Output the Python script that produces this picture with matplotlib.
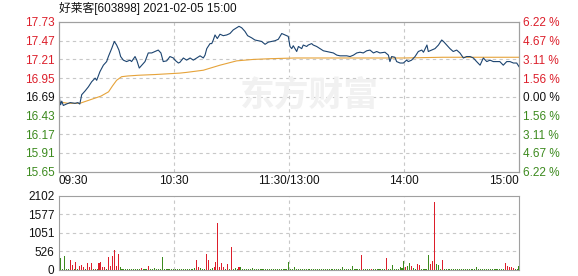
import numpy as np
import matplotlib
matplotlib.use("Agg")
import matplotlib.pyplot as plt

plt.rcParams['font.family'] = ['Liberation Sans', 'Noto Sans CJK SC', 'DejaVu Sans']

# ---- data ----
title = "好莱客[603898] 2021-02-05 15:00"
prev_close = 16.69
price_ticks = [17.73, 17.47, 17.21, 16.95, 16.69, 16.43, 16.17, 15.91, 15.65]
pct_labels = ["6.22 %", "4.67 %", "3.11 %", "1.56 %", "0.00 %", "1.56 %", "3.11 %", "4.67 %", "6.22 %"]
vol_ticks = [0, 526, 1051, 1577, 2102]
time_ticks = [0, 60, 120, 180, 240]
time_labels = ["09:30", "10:30", "11:30/13:00", "14:00", "15:00"]

# minute index (0..240) and price
price_min = [0, 0.5, 1, 1.6, 2.4, 4, 6, 8.5, 10, 11, 12, 13.7, 15.5, 17.2, 19, 19.8, 21.5, 23.3,
             25, 25.9, 27.6, 29, 30.2, 31.4, 32.3, 33.7, 35.4, 37.2, 38, 39.8, 40.7, 42, 43.3, 45,
             46.7, 48.5, 50.2, 51.9, 53.3, 54.5, 56.3, 58, 59.8, 60.6, 62.4, 63.2, 65, 66.7, 68.5,
             70.2, 72, 73.7, 75.4, 76.3, 77.2, 78.9, 79.8, 80.6, 81.5, 82.7, 84.1, 85.8, 87.6, 89.3,
             91, 92.8, 94, 95.4, 97.1, 98.5, 100.6, 102.3, 104.1, 105.8, 107.6, 109.3, 111, 112.8,
             114.5, 116.3, 118, 119.7, 120.6, 121.5, 122.3, 123.2, 124.1, 125, 126.7, 127.5, 129.3,
             130.1, 131.9, 132.7, 134.5, 136.2, 138, 139.7, 141.5, 143.2, 145, 146.7, 148.4, 150.2,
             151.9, 153.7, 155.4, 157.1, 158.8, 160.6, 162.3, 164.1, 165.8, 167.5, 170.1, 171.9,
             172.7, 173.6, 175.3, 176.2, 178, 179.7, 181.4, 182.3, 184, 185.8, 187.5, 189.3, 190.2,
             192, 192.7, 194.5, 196.2, 198, 199.7, 200.6, 202.3, 204, 205.7, 207.5, 209.2, 211,
             212.7, 214.5, 216.2, 217.9, 219.7, 221.4, 223.2, 224.9, 226.6, 228.4, 230, 231.8,
             233.6, 235.3, 237.1, 238.8, 240]
price_val = [16.845, 16.65, 16.58, 16.63, 16.57, 16.59, 16.61, 16.60, 16.61, 16.59, 16.72, 16.77,
             16.83, 16.90, 16.95, 16.92, 17.04, 17.13, 17.18, 17.25, 17.36, 17.46, 17.41, 17.34,
             17.25, 17.20, 17.18, 17.20, 17.18, 17.25, 17.20, 17.09, 17.13, 17.18, 17.30, 17.30,
             17.32, 17.34, 17.30, 17.18, 17.19, 17.25, 17.23, 17.20, 17.16, 17.17, 17.23, 17.20,
             17.23, 17.20, 17.23, 17.26, 17.23, 17.27, 17.36, 17.43, 17.43, 17.48, 17.55, 17.50,
             17.56, 17.54, 17.55, 17.57, 17.62, 17.65, 17.67, 17.65, 17.60, 17.54, 17.51, 17.48,
             17.47, 17.46, 17.42, 17.45, 17.46, 17.47, 17.49, 17.57, 17.55, 17.53, 17.39, 17.36,
             17.40, 17.36, 17.32, 17.39, 17.36, 17.41, 17.39, 17.41, 17.43, 17.41, 17.39, 17.36,
             17.33, 17.32, 17.31, 17.30, 17.27, 17.26, 17.26, 17.26, 17.25, 17.27, 17.30, 17.31,
             17.30, 17.33, 17.34, 17.30, 17.32, 17.30, 17.31, 17.27, 17.18, 17.25, 17.24, 17.18,
             17.16, 17.16, 17.20, 17.18, 17.20, 17.25, 17.32, 17.34, 17.31, 17.41, 17.32, 17.34,
             17.36, 17.41, 17.48, 17.46, 17.41, 17.36, 17.32, 17.34, 17.30, 17.23, 17.25, 17.25,
             17.23, 17.18, 17.13, 17.23, 17.18, 17.20, 17.18, 17.18, 17.18, 17.13, 17.18, 17.18,
             17.16, 17.16, 17.11]

avg_min = [0, 5, 11, 15.4, 22, 26, 28, 30.2, 32.8, 36, 41.5, 50.2, 63.2, 66.7, 75.4, 84.1, 92.8,
           101.5, 110.2, 123.2, 180, 200, 240]
avg_val = [16.62, 16.60, 16.60, 16.64, 16.70, 16.76, 16.84, 16.92, 16.97, 16.98, 16.99, 17.00,
           17.02, 17.03, 17.06, 17.13, 17.19, 17.21, 17.22, 17.23, 17.23, 17.24, 17.24]

# volume per minute, 0..240
volume = [40, 330, 40, 387, 30, 40, 283, 141, 40, 226,
          40, 113, 141, 75, 30, 207, 75, 189, 30, 40,
          30, 189, 217, 94, 75, 40, 358, 123, 396, 566,
          113, 453, 75, 30, 40, 30, 25, 30, 30, 40,
          35, 30, 25, 60, 30, 30, 40, 113, 40, 30,
          50, 30, 25, 30, 358, 20, 20, 25, 30, 25,
          30, 25, 30, 40, 25, 30, 25, 30, 35, 40,
          40, 50, 283, 94, 50, 30, 40, 453, 283, 30,
          50, 94, 236, 1339, 75, 207, 75, 30, 170, 40,
          641, 30, 50, 30, 75, 75, 30, 30, 25, 30,
          30, 50, 25, 30, 25, 20, 25, 20, 25, 20,
          25, 20, 25, 20, 25, 30, 20, 25, 20, 30,
          236, 30, 25, 75, 30, 25, 20, 25, 30, 20,
          25, 25, 20, 30, 25, 20, 25, 20, 25, 30,
          25, 20, 25, 30, 25, 20, 25, 30, 75, 25,
          20, 30, 25, 113, 30, 25, 20, 25, 424, 30,
          25, 30, 25, 40, 30, 25, 30, 40, 25, 40,
          30, 349, 30, 40, 141, 40, 30, 30, 75, 50,
          264, 75, 113, 207, 113, 50, 30, 170, 141, 30,
          25, 30, 40, 424, 170, 264, 1933, 170, 141, 30,
          283, 40, 30, 25, 20, 25, 20, 25, 20, 25,
          20, 25, 20, 25, 20, 25, 20, 25, 75, 25,
          20, 25, 30, 25, 20, 25, 30, 25, 30, 25,
          30, 30, 40, 207, 113, 94, 75, 47, 30, 25,
          113]
red_minutes = [6, 7, 9, 11, 12, 13, 15, 16, 17, 19, 21, 22, 23, 24, 26, 27, 28, 29, 30, 31, 43, 47,
               72, 73, 77, 78, 81, 82, 83, 84, 85, 86, 88, 90, 94, 158, 163, 171, 181, 184, 187,
               188, 194, 195, 196, 200, 233, 234, 235, 236, 237]

RED = '#dc1e2a'
GREEN = '#3c8a1e'
GRID = '#c8c8c8'
SPINE = '#a0a0a0'

fig = plt.figure(figsize=(5.78, 2.76), dpi=100)
W, H = 578.0, 276.0
ax = fig.add_axes([58.7 / W, (H - 171.7) / H, 460.3 / W, 149.7 / H])
axv = fig.add_axes([58.7 / W, (H - 270) / H, 460.3 / W, 74.3 / H])

# watermark
fig.text(309 / W, 1 - 95.5 / H, "东方财富", fontsize=25, color='#f1f1f1', fontweight='bold',
         family=['Noto Sans CJK SC'], ha='center', va='center', style='italic', zorder=0)

# price panel
ax.plot(avg_min, avg_val, color='#e6a33a', lw=0.8, zorder=3)
ax.plot(price_min, price_val, color='#1c4470', lw=0.8, zorder=4)
ax.set_xlim(0, 240)
ax.set_ylim(price_ticks[-1], price_ticks[0])
ax.set_yticks(price_ticks)
ax.set_yticklabels(["%.2f" % p for p in price_ticks])
for lab, p in zip(ax.get_yticklabels(), price_ticks):
    lab.set_color(RED if p > prev_close else (GREEN if p < prev_close else '#111111'))
ax.set_xticks([])
ax.tick_params(axis='y', length=0, pad=3, labelsize=8.5)
for y in price_ticks[1:-1]:
    ax.axhline(y, color=GRID, lw=0.8, ls=(0, (3, 3)), zorder=1)
for x in time_ticks[1:-1]:
    ax.axvline(x, color=GRID, lw=0.8, ls=(0, (3, 3)), zorder=1)
for s in ax.spines.values():
    s.set_color(SPINE)
ax.patch.set_alpha(0)

ax2 = ax.twinx()
ax2.set_ylim(price_ticks[-1], price_ticks[0])
ax2.set_yticks(price_ticks)
ax2.set_yticklabels(pct_labels)
for lab, p in zip(ax2.get_yticklabels(), price_ticks):
    lab.set_color(RED if p > prev_close else (GREEN if p < prev_close else '#111111'))
ax2.tick_params(axis='y', length=0, pad=3, labelsize=8.5)
for s in ax2.spines.values():
    s.set_color(SPINE)

# time labels
for t, lab in zip(time_ticks, time_labels):
    ha = 'left' if t == 0 else ('right' if t == 240 else 'center')
    ax.text(t, -0.06, lab, transform=ax.get_xaxis_transform(), ha=ha, va='center',
            fontsize=8.5, color='#111111')

fig.text(58.7 / W, 1 - 8.3 / H, title, fontsize=8.5, color='#111111', ha='left', va='center')

# volume panel
minutes = np.arange(len(volume))
colors = [RED if m in red_minutes else GREEN for m in minutes]
axv.bar(minutes, volume, width=0.55, color=colors, zorder=3)
axv.set_xlim(0, 240)
axv.set_ylim(0, vol_ticks[-1])
axv.set_yticks(vol_ticks)
axv.set_yticklabels([str(v) for v in vol_ticks])
axv.set_xticks([])
axv.tick_params(axis='y', length=0, pad=3, labelsize=8.5, labelcolor='#111111')
for y in vol_ticks[1:-1]:
    axv.axhline(y, color=GRID, lw=0.8, ls=(0, (3, 3)), zorder=1)
for x in time_ticks[1:-1]:
    axv.axvline(x, color=GRID, lw=0.8, ls=(0, (3, 3)), zorder=1)
for s in axv.spines.values():
    s.set_color(SPINE)

fig.savefig("out.png", dpi=100)
